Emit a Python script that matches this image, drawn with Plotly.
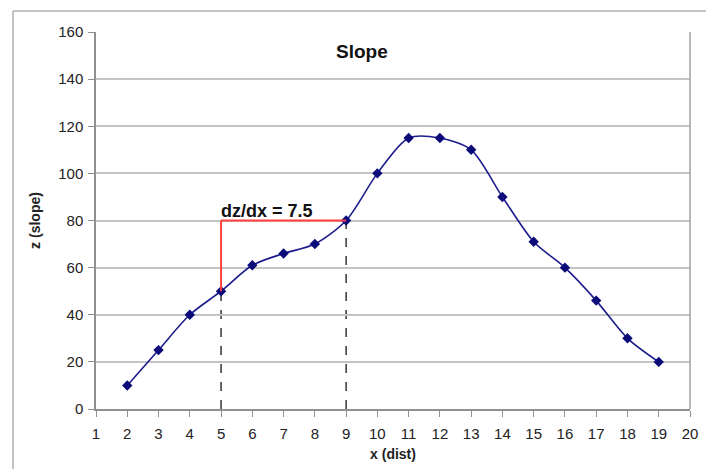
import plotly.graph_objects as go

x_dist = [2, 3, 4, 5, 6, 7, 8, 9, 10, 11, 12, 13, 14, 15, 16, 17, 18, 19]
z_slope = [10, 25, 40, 50, 61, 66, 70, 80, 100, 115, 115, 110, 90, 71, 60, 46, 30, 20]
x_ticks = list(range(1, 21))
y_ticks = list(range(0, 161, 20))
slope_x = [5, 9]
slope_z = [50, 80]
slope_label = "dz/dx = 7.5"

FONT = "Liberation Sans, Arial, sans-serif"
W, H = 706, 469
ml, mr, mt, mb = 96, 16, 32, 60
pw = W - ml - mr
ph = H - mt - mb

fig = go.Figure()
fig.add_trace(go.Scatter(
    x=x_dist, y=z_slope, mode="lines+markers",
    line=dict(color="#1c1c8c", width=1.6, shape="spline", smoothing=0.8),
    marker=dict(symbol="diamond", size=8, color="#0a0a78"),
    showlegend=False, cliponaxis=False,
))

shapes = []
# dashed drop lines
for xv, zv in zip(slope_x, slope_z):
    shapes.append(dict(type="line", xref="x", yref="y", x0=xv, x1=xv, y0=0, y1=zv,
                       line=dict(color="black", width=1.2, dash="dash"), layer="below"))
# red slope triangle
shapes.append(dict(type="line", xref="x", yref="y", x0=slope_x[0], x1=slope_x[0],
                   y0=slope_z[0], y1=slope_z[1], line=dict(color="#ff4040", width=2)))
shapes.append(dict(type="line", xref="x", yref="y", x0=slope_x[0], x1=slope_x[1],
                   y0=slope_z[1], y1=slope_z[1], line=dict(color="#ff4040", width=2)))
# plot-area right border
shapes.append(dict(type="line", xref="paper", yref="paper", x0=1, x1=1, y0=0, y1=1,
                   line=dict(color="#a0a0a0", width=1.5)))
# outer chart border (top and left)
bx = (13 - ml) / pw
by = 1 + (mt - 11) / ph
shapes.append(dict(type="line", xref="paper", yref="paper", x0=bx, x1=(W - ml + 5) / pw,
                   y0=by, y1=by, line=dict(color="#b0b0b0", width=1.5)))
shapes.append(dict(type="line", xref="paper", yref="paper", x0=bx, x1=bx,
                   y0=by, y1=-(mb + 5) / ph, line=dict(color="#b0b0b0", width=1.5)))

annotations = [
    dict(text="<b>Slope</b>", xref="paper", yref="paper",
         x=(362 - ml) / pw, y=1 - (52 - mt) / ph, showarrow=False,
         font=dict(family=FONT, size=19, color="#111111"), xanchor="center", yanchor="middle"),
    dict(text="<b>" + slope_label + "</b>", xref="x", yref="y",
         x=slope_x[0] - 0.07, y=slope_z[1], showarrow=False,
         font=dict(family=FONT, size=18, color="#111111"), xanchor="left", yanchor="bottom",
         yshift=-2),
]

fig.update_layout(
    width=W, height=H, margin=dict(l=ml, r=mr, t=mt, b=mb, autoexpand=False),
    paper_bgcolor="white", plot_bgcolor="white",
    font=dict(family=FONT, size=15, color="#222222"),
    shapes=shapes, annotations=annotations,
    xaxis=dict(range=[1, 20], tickvals=x_ticks, ticks="outside", ticklen=6,
               tickcolor="#909090", showgrid=False, zeroline=False,
               showline=True, linecolor="#909090", linewidth=1.5, automargin=False,
               tickfont=dict(size=15), ticklabelstandoff=4,
               title=dict(text="<b>x (dist)</b>", font=dict(size=14), standoff=8)),
    yaxis=dict(range=[0, 160], tickvals=y_ticks, ticks="outside", ticklen=6,
               tickcolor="#909090", showgrid=True, gridcolor="#c4c4c4", gridwidth=1.5,
               zeroline=False, showline=True, linecolor="#909090", linewidth=1.5,
               automargin=False,
               tickfont=dict(size=15), ticklabelstandoff=2,
               title=dict(text="<b>z (slope)</b>", font=dict(size=14), standoff=14)),
)

fig.write_html("out.html")
